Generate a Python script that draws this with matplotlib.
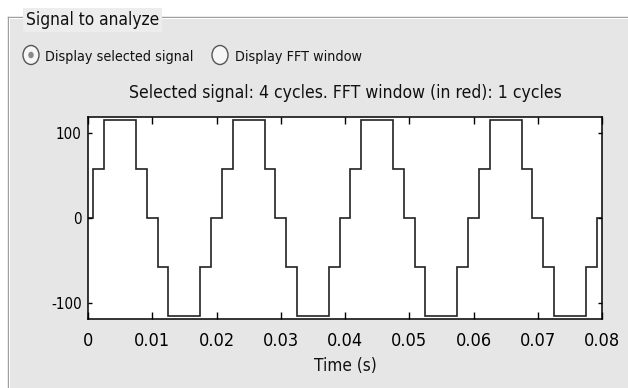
import matplotlib
matplotlib.use('Agg')
import matplotlib.pyplot as plt
from matplotlib.patches import Rectangle, Ellipse

# stepped signal: switching instants (s) and levels
edges = [0, 0.00083, 0.0025, 0.0075, 0.00917, 0.01083, 0.0125, 0.0175, 0.01917,
         0.02083, 0.0225, 0.0275, 0.02917, 0.03083, 0.0325, 0.0375, 0.03917,
         0.04083, 0.0425, 0.0475, 0.04917, 0.05083, 0.0525, 0.0575, 0.05917,
         0.06083, 0.0625, 0.0675, 0.06917, 0.07083, 0.0725, 0.0775, 0.07917, 0.08]
levels = [0,
          57.7, 115.5, 57.7, 0, -57.7, -115.5, -57.7, 0,
          57.7, 115.5, 57.7, 0, -57.7, -115.5, -57.7, 0,
          57.7, 115.5, 57.7, 0, -57.7, -115.5, -57.7, 0,
          57.7, 115.5, 57.7, 0, -57.7, -115.5, -57.7, 0]

xticks = [0, 0.01, 0.02, 0.03, 0.04, 0.05, 0.06, 0.07, 0.08]
xticklabels = ['0', '0.01', '0.02', '0.03', '0.04', '0.05', '0.06', '0.07', '0.08']
yticks = [-100, 0, 100]
yticklabels = ['-100', '0', '100']

title = 'Selected signal: 4 cycles. FFT window (in red): 1 cycles'
panel_title = 'Signal to analyze'
radio_labels = ['Display selected signal', 'Display FFT window']

# narrow GUI-like lettering
plt.rcParams['font.family'] = ['DejaVu Sans']
plt.rcParams['font.stretch'] = 'condensed'

W, H = 628, 388
fig = plt.figure(figsize=(W / 100, H / 100), dpi=100)
fig.patch.set_facecolor('white')

# background layer in pixel coordinates for the GUI panel
bg = fig.add_axes([0, 0, 1, 1], zorder=0)
bg.set_xlim(0, W)
bg.set_ylim(H, 0)
bg.axis('off')

panel = '#e6e6e6'
bg.add_patch(Rectangle((8, 17), W, H, facecolor=panel, edgecolor='none'))
bg.plot([8, W], [16.8, 16.8], color='#9a9a9a', lw=1.0)
bg.plot([9, W], [18.0, 18.0], color='white', lw=0.8)
bg.plot([8, 8], [16.8, H], color='#9a9a9a', lw=1.0)
bg.plot([9.2, 9.2], [18, H], color='white', lw=0.8)

bg.text(26, 25, panel_title, fontsize=12.4, va='baseline', ha='left', color='#111111',
        bbox=dict(boxstyle='square,pad=0.15', facecolor='#ededed', edgecolor='none'))

# radio buttons
for cx, tx, label, on in [(31, 45, radio_labels[0], True), (220, 235, radio_labels[1], False)]:
    bg.add_patch(Ellipse((cx, 55), 16, 19, facecolor='#f6f6f6', edgecolor='#555555', lw=1.0))
    if on:
        bg.add_patch(Ellipse((cx, 55), 5.5, 6.5, facecolor='#8a8a8a', edgecolor='none'))
    bg.text(tx, 60.5, label, fontsize=10.3, va='baseline', ha='left', color='#111111')

# signal axes
l, r, t, b = 88, 602, 117, 319
ax = fig.add_axes([l / W, (H - b) / H, (r - l) / W, (b - t) / H], zorder=2)
ax.set_facecolor('white')
ax.stairs(levels, edges, baseline=None, color='#222222', lw=1.2)
ax.set_xlim(0, 0.08)
ax.set_ylim(-119, 119)
ax.set_xticks(xticks)
ax.set_xticklabels(xticklabels)
ax.set_yticks(yticks)
ax.set_yticklabels(yticklabels)
ax.tick_params(axis='x', direction='in', length=5, width=1, top=True, labelsize=13, pad=9)
ax.tick_params(axis='y', direction='in', length=3, width=1, right=True, labelsize=10.9, pad=4.5)
for s in ax.spines.values():
    s.set_linewidth(1.1)
ax.set_title(title, fontsize=12.6, pad=14, color='#111111')
ax.set_xlabel('Time (s)', fontsize=12.3, color='#111111')
ax.xaxis.set_label_coords(0.5, (b - 357) / (b - t))

fig.savefig('out.png', dpi=100, facecolor=fig.get_facecolor())
